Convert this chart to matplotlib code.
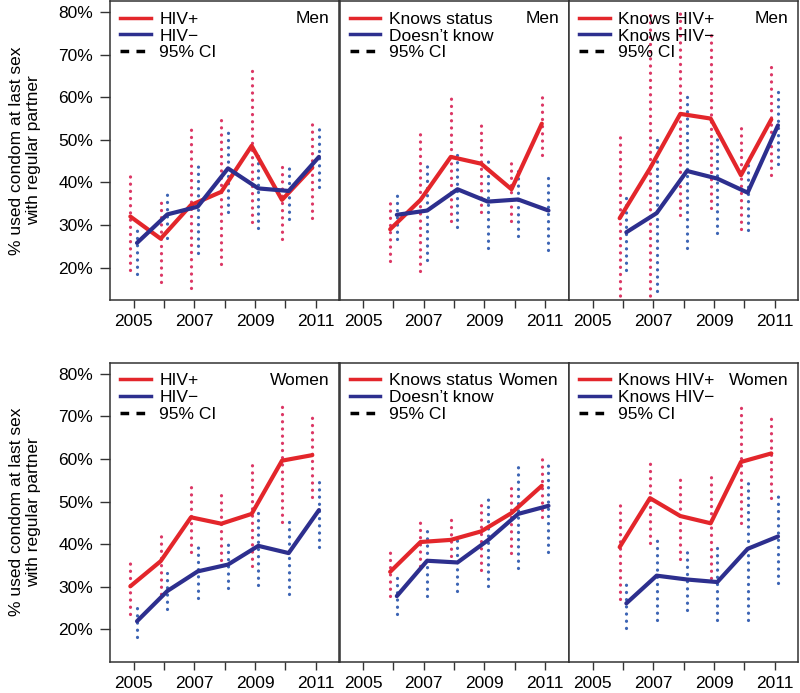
import numpy as np
import matplotlib.pyplot as plt
from matplotlib.lines import Line2D

plt.rcParams['font.family'] = ['Liberation Sans', 'DejaVu Sans']

years = [2005, 2006, 2007, 2008, 2009, 2010, 2011]

# ---- Men ----
men_pos = [32.0, 26.8, 34.7, 37.8, 48.6, 35.9, 43.5]
men_pos_lo = [19.4, 16.6, 15.2, 20.9, 30.6, 26.7, 31.6]
men_pos_hi = [42.9, 36.6, 52.8, 55.0, 66.4, 44.8, 55.2]
men_neg = [25.8, 32.5, 34.3, 43.3, 38.6, 38.0, 46.0]
men_neg_lo = [18.4, 26.9, 23.4, 33.0, 29.3, 31.4, 39.0]
men_neg_hi = [29.6, 37.8, 45.0, 52.8, 47.2, 44.3, 53.0]

men_knows = [29.0, 35.9, 46.0, 44.4, 38.4, 53.8]
men_knows_lo = [21.5, 19.1, 31.0, 33.0, 31.0, 46.4]
men_knows_hi = [36.3, 51.4, 60.0, 55.0, 45.6, 60.8]
men_dk = [32.4, 33.4, 38.4, 35.5, 36.0, 33.4]
men_dk_lo = [26.8, 21.9, 29.5, 24.6, 27.5, 24.2]
men_dk_hi = [37.7, 44.8, 47.3, 46.0, 43.9, 42.3]

men_kpos = [31.6, 43.3, 56.1, 55.0, 41.7, 54.8]
men_kpos_lo = [10.0, 10.0, 32.4, 33.9, 29.0, 41.7]
men_kpos_hi = [50.7, 79.5, 80.6, 75.2, 53.9, 67.0]
men_kneg = [28.3, 32.8, 42.7, 40.9, 37.6, 53.4]
men_kneg_lo = [19.4, 14.5, 24.6, 28.1, 28.9, 44.4]
men_kneg_hi = [37.6, 50.5, 60.4, 53.0, 45.2, 62.5]

# ---- Women ----
wom_pos = [30.1, 36.0, 46.3, 44.8, 47.1, 59.6, 60.9]
wom_pos_lo = [23.7, 28.2, 38.1, 36.2, 34.8, 45.3, 51.0]
wom_pos_hi = [36.4, 43.0, 54.4, 52.7, 58.6, 72.4, 70.8]
wom_neg = [21.9, 29.0, 33.6, 35.2, 39.6, 37.9, 48.0]
wom_neg_lo = [18.3, 24.7, 27.4, 29.7, 30.3, 28.2, 39.3]
wom_neg_hi = [25.4, 33.3, 39.9, 40.4, 48.8, 46.5, 55.8]

wom_knows = [33.5, 40.5, 41.0, 43.0, 47.3, 53.7]
wom_knows_lo = [27.8, 34.8, 37.1, 34.0, 37.9, 46.3]
wom_knows_hi = [39.1, 45.7, 46.5, 50.6, 54.3, 60.7]
wom_dk = [27.8, 36.1, 35.7, 40.9, 47.1, 49.0]
wom_dk_lo = [23.5, 27.8, 29.0, 30.1, 34.4, 38.1]
wom_dk_hi = [32.9, 44.0, 41.8, 51.8, 59.6, 59.6]

wom_kpos = [39.3, 50.8, 46.6, 44.9, 59.3, 61.3]
wom_kpos_lo = [27.2, 40.3, 36.4, 32.1, 44.9, 50.8]
wom_kpos_hi = [50.6, 60.4, 56.5, 57.2, 73.4, 70.8]
wom_kneg = [26.1, 32.6, 31.7, 31.1, 38.9, 41.8]
wom_kneg_lo = [20.4, 22.3, 24.5, 22.3, 22.3, 30.9]
wom_kneg_hi = [31.5, 42.0, 38.7, 40.1, 54.4, 52.3]

RED = '#e3262b'
BLUE = '#2d2f8e'
RED_CI = '#dc3765'
BLUE_CI = '#3c64b4'
OFF = 0.11

panels = [
    # (row, col, labels, sex, start, red, red_lo, red_hi, blue, blue_lo, blue_hi)
    (0, 0, ('HIV+', 'HIV\u2212'), 'Men', 0, men_pos, men_pos_lo, men_pos_hi, men_neg, men_neg_lo, men_neg_hi),
    (0, 1, ('Knows status', 'Doesn\u2019t know'), 'Men', 1, men_knows, men_knows_lo, men_knows_hi, men_dk, men_dk_lo, men_dk_hi),
    (0, 2, ('Knows HIV+', 'Knows HIV\u2212'), 'Men', 1, men_kpos, men_kpos_lo, men_kpos_hi, men_kneg, men_kneg_lo, men_kneg_hi),
    (1, 0, ('HIV+', 'HIV\u2212'), 'Women', 0, wom_pos, wom_pos_lo, wom_pos_hi, wom_neg, wom_neg_lo, wom_neg_hi),
    (1, 1, ('Knows status', 'Doesn\u2019t know'), 'Women', 1, wom_knows, wom_knows_lo, wom_knows_hi, wom_dk, wom_dk_lo, wom_dk_hi),
    (1, 2, ('Knows HIV+', 'Knows HIV\u2212'), 'Women', 1, wom_kpos, wom_kpos_lo, wom_kpos_hi, wom_kneg, wom_kneg_lo, wom_kneg_hi),
]

W, H = 800, 693
fig = plt.figure(figsize=(W / 100, H / 100), dpi=100)

col_left = [110, 339.5, 569]
col_w = 229.3
row_top = [1, 362.7]
row_h = 299
FS = 12.5
dotted = (0, (0.05, 2.2))

for row, col, labels, sex, start, r, rlo, rhi, b, blo, bhi in panels:
    ax = fig.add_axes([col_left[col] / W, 1 - (row_top[row] + row_h) / H,
                       col_w / W, row_h / H])
    yrs = np.array(years[start:])

    # confidence intervals as dotted vertical lines
    for x, lo, hi in zip(yrs - OFF, rlo, rhi):
        ax.plot([x, x], [lo, hi], color=RED_CI, lw=2.3, ls=dotted,
                dash_capstyle='round', zorder=2)
    for x, lo, hi in zip(yrs + OFF, blo, bhi):
        ax.plot([x, x], [lo, hi], color=BLUE_CI, lw=2.3, ls=dotted,
                dash_capstyle='round', zorder=2)

    ax.plot(yrs - OFF, r, color=RED, lw=3, solid_capstyle='round', zorder=3)
    ax.plot(yrs + OFF, b, color=BLUE, lw=3, solid_capstyle='round', zorder=3)

    ax.set_xlim(2004.22, 2011.78)
    ax.set_ylim(12.4, 82.6)
    ax.set_xticks(years)
    ax.set_xticklabels([str(y) if y % 2 == 1 else '' for y in years], fontsize=FS)
    ax.tick_params(axis='x', length=6, width=1, color='#333333', pad=4)
    if col == 0:
        ax.set_yticks([20, 30, 40, 50, 60, 70, 80])
        ax.set_yticklabels(['%d%%' % v for v in range(20, 90, 10)], fontsize=FS)
        ax.tick_params(axis='y', length=7, width=1, color='#333333', pad=5)
        ax.set_ylabel('% used condom at last sex\nwith regular partner',
                      fontsize=FS, linespacing=1.1, va='center')
        ax.yaxis.set_label_coords(-25 / col_w * 3.4, 0.5)
    else:
        ax.set_yticks([])

    for s in ax.spines.values():
        s.set_color('#333333')
        s.set_linewidth(1.1)

    handles = [Line2D([], [], color=RED, lw=2.5),
               Line2D([], [], color=BLUE, lw=2.5),
               Line2D([], [], color='black', lw=2.5, ls=(0, (2.5, 2.1)))]
    ax.legend(handles, [labels[0], labels[1], '95% CI'], loc='upper left',
              bbox_to_anchor=(0.045, 0.965), frameon=False, fontsize=FS,
              borderpad=0, borderaxespad=0, handlelength=1.75,
              handletextpad=0.5, labelspacing=0.1)
    ax.text(0.957, 0.94, sex, transform=ax.transAxes, ha='right', va='center',
            fontsize=FS)

fig.savefig('out.png', dpi=100)
